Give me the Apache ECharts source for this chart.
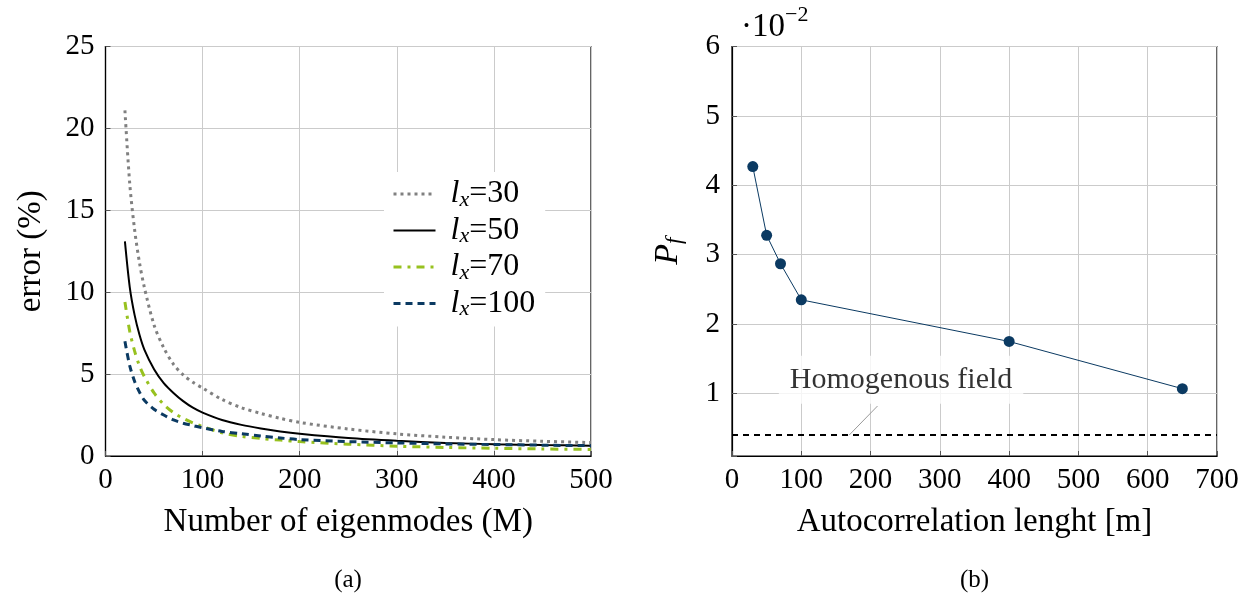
<!DOCTYPE html>
<html>
<head>
<meta charset="utf-8">
<script src="https://cdn.jsdelivr.net/npm/echarts@6/dist/echarts.min.js"></script>
<style>
  html, body { margin: 0; padding: 0; background: #fff; }
  #chart { width: 1248px; height: 596px; }
</style>
</head>
<body>
<div id="chart"></div>
<script>
// (a) truncation error vs number of eigenmodes
const modes = [20, 25, 30, 35, 40, 50, 60, 70, 80, 90, 100, 120, 140, 160, 180, 200, 250, 300, 350, 400, 450, 500];
const errLx30 = [21.1, 16.6, 13.8, 11.8, 10.3, 8.0, 6.6, 5.6, 4.95, 4.5, 4.15, 3.45, 2.95, 2.6, 2.3, 2.05, 1.65, 1.35, 1.15, 1.0, 0.9, 0.82];
const errLx50 = [13.1, 10.3, 8.6, 7.4, 6.5, 5.3, 4.45, 3.85, 3.35, 2.95, 2.65, 2.2, 1.9, 1.68, 1.5, 1.36, 1.1, 0.93, 0.8, 0.72, 0.67, 0.63];
const errLx70 = [9.4, 7.6, 6.4, 5.5, 4.85, 3.85, 3.15, 2.65, 2.3, 2.02, 1.8, 1.42, 1.2, 1.07, 0.97, 0.88, 0.72, 0.6, 0.52, 0.47, 0.43, 0.4];
const errLx100 = [7.0, 5.5, 4.55, 3.9, 3.4, 2.85, 2.5, 2.2, 2.0, 1.86, 1.72, 1.5, 1.36, 1.22, 1.1, 1.0, 0.88, 0.8, 0.74, 0.7, 0.66, 0.63];
const seriesNames = ["l_x=30", "l_x=50", "l_x=70", "l_x=100"];

// (b) failure probability vs autocorrelation length (x 10^-2)
const corrLength = [30, 50, 70, 100, 400, 650];
const pf = [4.27, 3.28, 2.87, 2.35, 1.75, 1.07];
const homogeneousPf = 0.4;
const homogLabelPos = [244, 1.2];
const homogLeader = [[169, 0.4], [210, 0.82]];

const FONT = "Liberation Serif";
const gridColor = "#cbcbcb";

function pair(xs, ys) {
  return xs.map((x, i) => [x, ys[i]]);
}

let chart = echarts.init(document.getElementById("chart"));

let axisCommon = {
  axisLine: { show: true, onZero: false, lineStyle: { color: "#000", width: 1.2 } },
  axisTick: { show: true, inside: true, length: 5, lineStyle: { color: "#555" } },
  splitLine: { show: true, lineStyle: { color: gridColor, width: 1 } },
};

function curve(idx, values, color, width, dash, z) {
  return {
    name: seriesNames[idx],
    type: "line",
    xAxisIndex: 0,
    yAxisIndex: 0,
    symbol: "none",
    smooth: 0.3,
    data: pair(modes, values),
    color: color,
    lineStyle: { color: color, width: width, type: dash },
    z: z,
  };
}

let option = {
  animation: false,
  backgroundColor: "#fff",
  grid: [
    { left: 105.5, top: 46.5, width: 485.5, height: 409.5, show: true, borderColor: "#000", borderWidth: 1.2, outerBoundsMode: "none" },
    { left: 732, top: 46.5, width: 485, height: 409.5, show: true, borderColor: "#000", borderWidth: 1.2, outerBoundsMode: "none" },
  ],
  xAxis: [
    {
      ...axisCommon,
      gridIndex: 0,
      type: "value",
      min: 0,
      max: 500,
      interval: 100,
      axisLabel: { color: "#000", fontFamily: FONT, fontSize: 29, margin: 10 },
      name: "Number of eigenmodes (M)",
      nameLocation: "middle",
      nameGap: 50,
      nameTextStyle: { color: "#000", fontFamily: FONT, fontSize: 33 },
    },
    {
      ...axisCommon,
      gridIndex: 1,
      type: "value",
      min: 0,
      max: 700,
      interval: 100,
      axisLabel: { color: "#000", fontFamily: FONT, fontSize: 29, margin: 10 },
      name: "Autocorrelation lenght [m]",
      nameLocation: "middle",
      nameGap: 50,
      nameTextStyle: { color: "#000", fontFamily: FONT, fontSize: 33 },
    },
  ],
  yAxis: [
    {
      ...axisCommon,
      gridIndex: 0,
      type: "value",
      min: 0,
      max: 25,
      interval: 5,
      axisLabel: { color: "#000", fontFamily: FONT, fontSize: 29, margin: 11 },
      name: "error (%)",
      nameLocation: "middle",
      nameGap: 58,
      nameRotate: 90,
      nameTextStyle: { color: "#000", fontFamily: FONT, fontSize: 33 },
    },
    {
      ...axisCommon,
      gridIndex: 1,
      type: "value",
      min: 0.1,
      max: 6,
      splitNumber: 5,
      axisLabel: {
        color: "#000",
        fontFamily: FONT,
        fontSize: 29,
        margin: 12,
        formatter: (v) => (Math.abs(v - Math.round(v)) < 1e-6 ? String(Math.round(v)) : ""),
      },
      name: "{i|P}{s|f}",
      nameLocation: "middle",
      nameGap: 46,
      nameRotate: 90,
      nameTextStyle: {
        color: "#000",
        rich: {
          i: { fontFamily: FONT, fontStyle: "italic", fontSize: 34, lineHeight: 36, color: "#000" },
          s: { fontFamily: FONT, fontStyle: "italic", fontSize: 23, lineHeight: 16, verticalAlign: "bottom", color: "#000" },
        },
      },
    },
  ],
  legend: {
    left: 384,
    top: 172,
    orient: "vertical",
    backgroundColor: "#fff",
    padding: [6, 10, 6, 8],
    itemGap: 3.5,
    itemWidth: 42,
    itemHeight: 14,
    itemStyle: { opacity: 0 },
    lineStyle: { width: "inherit" },
    data: seriesNames,
    formatter: (name) => "{i|l}{s|x}{n|=" + name.split("=")[1] + "}",
    textStyle: {
      padding: [0, 0, 0, 10],
      rich: {
        i: { fontFamily: FONT, fontStyle: "italic", fontSize: 32, lineHeight: 34, color: "#000" },
        s: { fontFamily: FONT, fontStyle: "italic", fontSize: 22, lineHeight: 14, verticalAlign: "bottom", color: "#000" },
        n: { fontFamily: FONT, fontSize: 32, lineHeight: 34, color: "#000" },
      },
    },
  },
  series: [
    curve(0, errLx30, "#808080", 3, [3, 4], 3),
    curve(1, errLx50, "#000", 2, "solid", 3),
    curve(2, errLx70, "#97c11f", 3, [8, 6, 3, 6], 4),
    curve(3, errLx100, "#0b3a62", 3, [7, 5], 5),
    {
      name: "Pf",
      type: "line",
      xAxisIndex: 1,
      yAxisIndex: 1,
      data: pair(corrLength, pf),
      symbol: "circle",
      symbolSize: 11,
      color: "#0b3a62",
      itemStyle: { color: "#0b3a62" },
      lineStyle: { color: "#0b3a62", width: 1 },
      z: 5,
      markLine: {
        silent: true,
        symbol: "none",
        label: { show: false },
        lineStyle: { color: "#000", width: 1.8, type: [6, 5] },
        data: [{ yAxis: homogeneousPf }],
      },
    },
    {
      name: "leader",
      type: "line",
      xAxisIndex: 1,
      yAxisIndex: 1,
      symbol: "none",
      data: homogLeader,
      lineStyle: { color: "#9a9a9a", width: 1 },
      z: 4,
    },
    {
      name: "homogLabel",
      type: "scatter",
      xAxisIndex: 1,
      yAxisIndex: 1,
      symbolSize: 0,
      data: [homogLabelPos],
      z: 6,
      label: {
        show: true,
        position: "inside",
        formatter: "Homogenous field",
        color: "#000",
        fontFamily: FONT,
        fontSize: 30,
        backgroundColor: "#fff",
        padding: [10, 11, 8, 11],
      },
    },
  ],
  graphic: [
    {
      type: "text",
      left: 741,
      top: 4,
      style: {
        text: "{a|·10}{b|−2}",
        rich: {
          a: { fontFamily: FONT, fontSize: 33, lineHeight: 40, verticalAlign: "bottom", fill: "#000" },
          b: { fontFamily: FONT, fontSize: 22, lineHeight: 40, verticalAlign: "top", fill: "#000" },
        },
      },
    },
    {
      type: "text",
      x: 348,
      y: 580,
      style: { text: "(a)", fontFamily: FONT, fontSize: 25, align: "center", verticalAlign: "middle", fill: "#000" },
    },
    {
      type: "text",
      x: 974.5,
      y: 580,
      style: { text: "(b)", fontFamily: FONT, fontSize: 25, align: "center", verticalAlign: "middle", fill: "#000" },
    },
  ],
};

option && chart.setOption(option);
</script>
</body>
</html>
